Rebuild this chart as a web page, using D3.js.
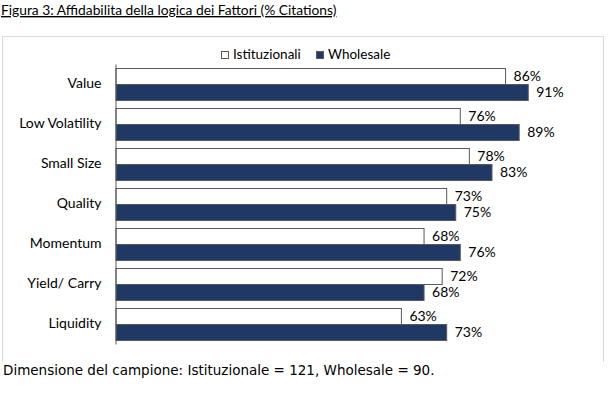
<!DOCTYPE html>
<html>
<head>
<meta charset="utf-8">
<script src="https://cdn.jsdelivr.net/npm/d3@7"></script>
<style>
  body { margin: 0; background: #fff; }
  svg { display: block; }
</style>
</head>
<body>
<svg id="canvas"></svg>
<script>
// data
let categories = ["Value", "Low Volatility", "Small Size", "Quality", "Momentum", "Yield/ Carry", "Liquidity"];
let istituzionali = [86, 76, 78, 73, 68, 72, 63];
let wholesale = [91, 89, 83, 75, 76, 68, 73];
let seriesNames = ["Istituzionali", "Wholesale"];

let width = 612;
let height = 394;
let plotLeft = 116;
let plotTop = 64;
let font = "Lato, 'Open Sans', sans-serif";
let navy = "#1f3864";

let canvas = d3.select("#canvas")
canvas.attr("width", width)
canvas.attr("height", height);

// title
canvas.append("text")
    .text("Figura 3: Affidabilita della logica dei Fattori (% Citations)")
    .attr("x", 1)
    .attr("y", 15)
    .attr("font-family", font)
    .attr("font-size", "13.8px")
    .attr("text-decoration", "underline")
    .attr("fill", "#000");

// chart frame
canvas.append("path")
    .attr("d", "M2.5,362 V36.5 H603.5 V362")
    .attr("fill", "none")
    .attr("stroke", "#d9d9d9");

let xScale = d3.scaleLinear()
    .domain([0, 100])
    .range([plotLeft, 569]);

let yScale = d3.scaleBand()
    .domain(categories)
    .range([plotTop, plotTop + 280])
    .paddingInner(0.2)
    .paddingOuter(0.1);

let sub = d3.scaleBand()
    .domain(seriesNames)
    .range([0, yScale.bandwidth()]);

let rows = categories.map((c, i) => ({ cat: c, vals: [istituzionali[i], wholesale[i]] }));

let groups = canvas.selectAll("g.row")
    .data(rows)
    .enter()
    .append("g")
    .attr("class", "row")
    .attr("transform", (d) => "translate(0," + yScale(d.cat) + ")");

groups.selectAll("rect")
    .data((d) => d.vals.map((v, j) => ({ v: v, s: seriesNames[j] })))
    .enter()
    .append("rect")
    .attr("x", xScale(0))
    .attr("y", (d) => sub(d.s) + 0.5)
    .attr("width", (d) => xScale(d.v) - xScale(0))
    .attr("height", sub.bandwidth())
    .attr("fill", (d) => d.s == "Wholesale" ? navy : "#fff")
    .attr("stroke", "#595959")
    .attr("stroke-width", 1);

groups.selectAll("text.val")
    .data((d) => d.vals.map((v, j) => ({ v: v, s: seriesNames[j] })))
    .enter()
    .append("text")
    .attr("class", "val")
    .text((d) => d.v + "%")
    .attr("x", (d) => xScale(d.v) + 8)
    .attr("y", (d) => sub(d.s) + sub.bandwidth() / 2 + 1)
    .attr("dominant-baseline", "middle")
    .attr("font-family", font)
    .attr("font-size", "14px")
    .attr("fill", "#000");

// category axis
let yAxis = d3.axisLeft(yScale).tickSize(0).tickPadding(14);
let ax = canvas.append("g")
    .attr("transform", "translate(" + (plotLeft - 0.5) + ",0)")
    .call(yAxis);
ax.select(".domain").attr("stroke", "#595959");
ax.selectAll("text")
    .attr("font-family", font)
    .attr("font-size", "14px")
    .attr("fill", "#000");

// legend
let legend = canvas.append("g").attr("transform", "translate(221,55)");
let legX = [0, 95];
seriesNames.forEach((s, j) => {
    legend.append("rect")
        .attr("x", legX[j] + 0.5)
        .attr("y", -3.5)
        .attr("width", 7)
        .attr("height", 7)
        .attr("fill", j == 1 ? navy : "#fff")
        .attr("stroke", "#595959");
    legend.append("text")
        .text(s)
        .attr("x", legX[j] + 12)
        .attr("y", 1)
        .attr("dominant-baseline", "middle")
        .attr("font-family", font)
        .attr("font-size", "13.5px")
        .attr("fill", "#000");
});

// footnote
canvas.append("text")
    .text("Dimensione del campione: Istituzionale = 121, Wholesale = 90.")
    .attr("x", 3)
    .attr("y", 375)
    .attr("font-family", "'DejaVu Sans', Verdana, sans-serif")
    .attr("font-size", "13.5px")
    .attr("fill", "#000");
</script>
</body>
</html>
